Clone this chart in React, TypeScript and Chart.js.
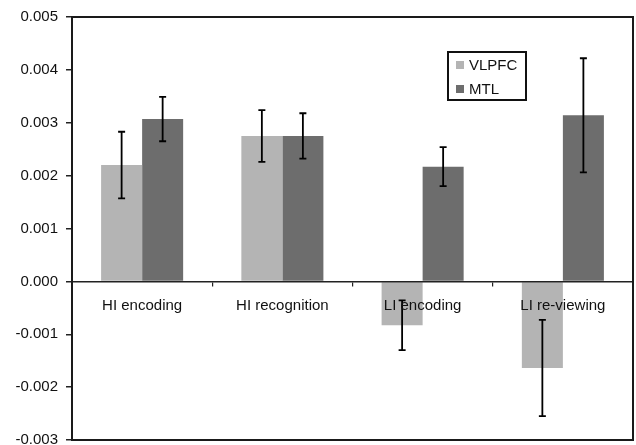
import React, { useEffect, useRef } from "react";
import { Chart, registerables } from "chart.js";

Chart.register(...registerables);

const categories = ["HI encoding", "HI recognition", "LI encoding", "LI re-viewing"];
const seriesNames = ["VLPFC", "MTL"];
const vlpfcValues = [0.0022, 0.00275, -0.00083, -0.00164];
const mtlValues = [0.00307, 0.00275, 0.00217, 0.00314];
const vlpfcErrors = [0.00063, 0.00049, 0.00047, 0.00091];
const mtlErrors = [0.00042, 0.00043, 0.00037, 0.00108];
const yTicks = [-0.003, -0.002, -0.001, 0, 0.001, 0.002, 0.003, 0.004, 0.005];

const FONT = "'Liberation Sans', Arial, sans-serif";
const colors = ["#b4b4b4", "#6d6d6d"];

const errorBarPlugin = {
  id: "errorBars",
  afterDatasetsDraw(chart: any) {
    const ctx = chart.ctx;
    const y = chart.scales.y;
    const errs = [vlpfcErrors, mtlErrors];
    ctx.save();
    ctx.strokeStyle = "#000";
    ctx.lineWidth = 1.8;
    chart.data.datasets.forEach((ds: any, di: number) => {
      const meta = chart.getDatasetMeta(di);
      meta.data.forEach((bar: any, i: number) => {
        const v = ds.data[i];
        const e = errs[di][i];
        const x = bar.x;
        const yt = y.getPixelForValue(v + e);
        const yb = y.getPixelForValue(v - e);
        ctx.beginPath();
        ctx.moveTo(x, yt);
        ctx.lineTo(x, yb);
        ctx.moveTo(x - 3.5, yt);
        ctx.lineTo(x + 3.5, yt);
        ctx.moveTo(x - 3.5, yb);
        ctx.lineTo(x + 3.5, yb);
        ctx.stroke();
      });
    });
    ctx.restore();
  },
};

const framePlugin = {
  id: "frameAndLegend",
  afterDraw(chart: any) {
    const ctx = chart.ctx;
    const a = chart.chartArea;
    ctx.save();
    ctx.strokeStyle = "#1a1a1a";
    ctx.lineWidth = 2;
    ctx.strokeRect(a.left, a.top, a.right - a.left, a.bottom - a.top);
    // legend
    const lx = 448, ly = 52, lw = 78, lh = 48;
    ctx.fillStyle = "#fff";
    ctx.fillRect(lx, ly, lw, lh);
    ctx.strokeStyle = "#111";
    ctx.lineWidth = 2;
    ctx.strokeRect(lx, ly, lw, lh);
    ctx.font = `15px ${FONT}`;
    ctx.textBaseline = "middle";
    ctx.textAlign = "left";
    seriesNames.forEach((name, i) => {
      const cy = 65 + i * 24;
      ctx.fillStyle = colors[i];
      ctx.fillRect(456, cy - 4, 8, 8);
      ctx.fillStyle = "#111";
      ctx.fillText(name, 469, cy + 1);
    });
    ctx.restore();
  },
};

export default function App() {
  const ref = useRef<HTMLCanvasElement>(null);
  useEffect(() => {
    document.body.style.margin = "0";
    const chart = new Chart(ref.current as HTMLCanvasElement, {
      type: "bar",
      data: {
        labels: categories,
        datasets: [
          { label: seriesNames[0], data: vlpfcValues, backgroundColor: colors[0] },
          { label: seriesNames[1], data: mtlValues, backgroundColor: colors[1] },
        ],
      },
      options: {
        animation: false,
        responsive: false,
        layout: { padding: { top: 17, right: 3, bottom: 5, left: 0 } },
        datasets: { bar: { categoryPercentage: 0.585, barPercentage: 1 } },
        plugins: { legend: { display: false }, tooltip: { enabled: false } },
        scales: {
          x: {
            position: { y: 0 } as any,
            offset: true,
            grid: {
              display: true,
              offset: true,
              drawOnChartArea: false,
              drawTicks: true,
              tickLength: 4,
              color: "#222",
              lineWidth: 1.2,
              z: 1,
            },
            border: { display: true, color: "#222", width: 1.5, z: 1 },
            ticks: {
              color: "#111",
              font: { family: FONT, size: 15 },
              padding: 11,
              maxRotation: 0,
              autoSkip: false,
              z: 1,
            },
          },
          y: {
            min: -0.003,
            max: 0.005,
            afterFit: (s: any) => {
              s.width = 72;
              s.paddingTop = 0;
              s.paddingBottom = 0;
            },
            afterBuildTicks: (s: any) => {
              s.ticks = yTicks.map((v) => ({ value: v }));
            },
            grid: {
              drawOnChartArea: false,
              drawTicks: true,
              tickLength: 6,
              color: "#222",
              lineWidth: 1.5,
            },
            border: { display: true, color: "#1a1a1a", width: 2 },
            ticks: {
              color: "#111",
              font: { family: FONT, size: 15 },
              padding: 8,
              callback: (v: any) => Number(v).toFixed(3),
            },
          },
        },
      },
      plugins: [errorBarPlugin, framePlugin],
    });
    return () => chart.destroy();
  }, []);
  return <canvas ref={ref} width={636} height={445} style={{ display: "block" }} />;
}
